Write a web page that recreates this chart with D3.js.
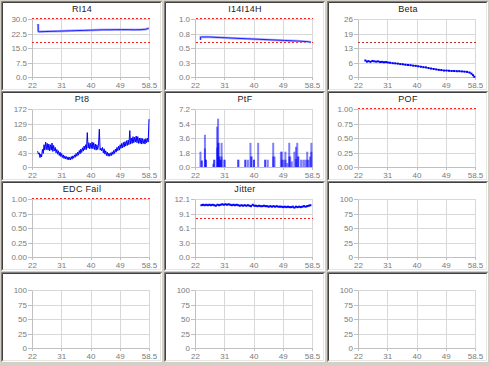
<!DOCTYPE html>
<html><head><meta charset="utf-8">
<script src="https://cdn.jsdelivr.net/npm/d3@7"></script>
<style>body{margin:0;background:#d4d0c8}svg{display:block}</style>
</head><body><svg id="c" width="490" height="366"></svg>
<script>
// ---------- data ----------
const titles = ["RI14","I14I14H","Beta","Pt8","PtF","POF","EDC Fail","Jitter","","","",""];
const yMaxes = [30, 1, 26, 172, 7.2, 1, 1, 12.1, 100, 100, 100, 100];
const yTickLabels = [
  ["0.0","7.5","15.0","22.5","30.0"],
  ["0.0","0.3","0.5","0.8","1.0"],
  ["0","6","13","19","26"],
  ["0","43","86","129","172"],
  ["0.0","1.8","3.6","5.4","7.2"],
  ["0.00","0.25","0.50","0.75","1.00"],
  ["0.00","0.25","0.50","0.75","1.00"],
  ["0.0","3.0","6.1","9.1","12.1"],
  ["0","25","50","75","100"],
  ["0","25","50","75","100"],
  ["0","25","50","75","100"],
  ["0","25","50","75","100"]
];
const xDomain = [22, 58.5];
const xTickValues = [22, 31.125, 40.25, 49.375, 58.5];
const xTickLabels = ["22","31","40","49","58.5"];
const limits = [[30, 18], [1.0, 0.6], [15], [], [], [1], [1], [7.9], [], [], [], []];

const ri14X = [23.9, 23.95, 24.2, 26, 28, 30, 32, 34, 36, 38, 40, 42, 44, 46, 48, 50, 52, 54, 56, 57.5, 58.4];
const ri14V = [27.4, 23.6, 23.4, 23.5, 23.6, 23.7, 23.8, 23.9, 24.0, 24.1, 24.2, 24.3, 24.4, 24.4, 24.5, 24.5, 24.5, 24.4, 24.5, 24.7, 25.2];

const i14X = [23.7, 23.75, 24.0, 26.5, 30, 34, 38, 42, 46, 50, 54, 57, 58.2];
const i14V = [0.64, 0.69, 0.69, 0.69, 0.68, 0.67, 0.66, 0.65, 0.64, 0.63, 0.62, 0.61, 0.60];

const betaX = [24.3,24.8,25.3,25.9,26.5,27.1,27.7,28.3,28.9,29.5,30.1,30.7,31.3,32.0,32.8,33.6,34.4,35.2,36.0,36.8,37.6,38.4,39.2,40.0,40.8,41.6,42.4,43.2,44.0,44.8,45.6,46.4,47.2,48.0,48.8,49.6,50.4,51.2,52.0,52.8,53.6,54.4,55.2,56.0,56.8,57.4,57.9,58.3];
const betaV = [7.4,6.9,7.1,6.8,7.2,7.0,6.9,7.0,6.7,6.8,6.6,6.7,6.5,6.4,6.2,6.1,6.0,5.8,5.7,5.5,5.4,5.3,5.1,5.0,4.8,4.6,4.4,4.3,4.0,3.8,3.6,3.4,3.2,3.1,2.9,2.9,2.8,2.7,2.7,2.6,2.6,2.5,2.4,2.3,2.0,1.5,0.8,0.1];

const pt8Start = 23.75, pt8Step = 0.25;
const pt8V = [
  47,38,42,28,38,30,52,40,66,50,74,52,70,50,68,48,66,50,71,46,
  64,48,58,42,52,38,48,34,44,31,40,28,36,25,33,24,31,22,30,21,
  29,21,31,23,33,26,36,29,40,32,44,35,49,39,53,43,57,47,62,51,
  66,52,102,56,72,54,70,55,74,54,72,52,68,50,66,52,64,112,50,56,
  48,58,42,54,38,48,34,44,32,41,32,42,34,45,37,49,40,53,44,58,
  48,62,50,66,55,70,57,73,59,75,62,78,64,80,66,108,68,86,70,90,
  72,88,74,92,72,90,70,86,70,86,68,84,70,82,68,84,72,86,74,142];

const ptfX = [23.7,24.1,24.1,25.1,25.1,25.4,25.4,27.7,28.0,28.0,28.9,28.9,29.2,29.2,29.4,29.6,29.6,30.0,30.0,30.3,30.3,31.2,31.2,35.5,35.5,37.7,37.7,38.5,39.3,39.6,39.6,40.4,40.4,41.7,43.9,43.9,44.7,46.4,46.4,46.8,48.8,49.1,49.1,49.6,50.2,50.2,50.8,51.4,51.4,51.7,52.2,53.0,53.5,53.5,53.9,54.2,54.2,55.1,55.8,56.4,57.0,57.0,57.4,57.9,58.3,58.3];
const ptfV = [1.9,0.8,0.8,4.0,2.3,0.9,0.9,0.4,0.9,0.9,5.0,2.4,6.0,3.0,3.0,1.3,1.3,0.9,0.9,3.0,1.3,0.9,0.9,0.9,0.9,0.9,0.9,0.9,3.0,1.3,1.3,0.9,0.9,3.0,0.9,0.9,0.9,3.0,1.3,1.3,1.9,1.9,0.9,0.9,1.9,0.9,0.5,3.0,1.3,1.3,0.7,1.9,2.5,1.0,3.0,1.3,1.3,0.9,0.9,0.9,1.9,0.9,0.9,1.3,3.0,1.9];

const jitStart = 24, jitStep = 0.5;
const jitV = [10.8,10.9,10.8,10.9,10.8,10.9,10.8,10.9,10.8,10.7,10.9,10.8,10.9,11.0,10.9,11.0,10.9,11.0,10.9,10.8,
  10.9,10.8,10.9,10.8,10.7,10.8,10.7,10.8,10.7,10.8,10.7,10.6,10.9,10.7,10.7,10.6,10.7,10.6,10.6,10.7,
  10.6,10.6,10.5,10.6,10.5,10.6,10.5,10.6,10.5,10.5,10.5,10.4,10.5,10.4,10.5,10.4,10.4,10.5,10.3,10.5,
  10.4,10.5,10.4,10.5,10.6,10.5,10.6,10.7,10.8];

// ---------- layout ----------
const colX = [3, 166, 329];
const rowY = [3, 93, 183, 274];
const W = 158, H = 87;
const svg = d3.select("#c");
const FONT = "'Liberation Sans', Arial, sans-serif";

function panel(i) {
  const wx = colX[i % 3], wy = rowY[Math.floor(i / 3)];
  const g = svg.append("g");
  g.append("rect").attr("x", wx).attr("y", wy).attr("width", W).attr("height", H).attr("fill", "#fff");
  g.append("path").attr("d", `M${wx-1.5},${wy+H+0.5}V${wy-1.5}H${wx+W+0.5}`).attr("stroke", "#808080").attr("fill", "none");
  g.append("path").attr("d", `M${wx-0.5},${wy+H-0.5}V${wy-0.5}H${wx+W-0.5}`).attr("stroke", "#404040").attr("fill", "none");
  g.append("path").attr("d", `M${wx-1},${wy+H+0.5}H${wx+W+0.5}V${wy-1}`).attr("stroke", "#ffffff").attr("fill", "none");
  g.append("path").attr("d", `M${wx},${wy+H-0.5}H${wx+W-0.5}V${wy}`).attr("stroke", "#e8e6e0").attr("fill", "none");

  const left = wx + 29, right = wx + 146, top = wy + 16, bottom = wy + 74;
  const x = d3.scaleLinear().domain(xDomain).range([left, right]);
  const y = d3.scaleLinear().domain([0, yMaxes[i]]).range([bottom, top]);
  const yTickValues = d3.range(5).map(k => yMaxes[i] * k / 4);

  g.append("text").attr("x", wx + W / 2).attr("y", wy + 9).attr("text-anchor", "middle")
    .attr("font-family", FONT).attr("font-size", "9px").attr("fill", "#222")
    .attr("letter-spacing", "0.3px").text(titles[i]);

  const grid = g.append("g").attr("shape-rendering", "crispEdges");
  grid.append("g").attr("transform", `translate(${left},0)`)
    .call(d3.axisLeft(y).tickValues(yTickValues).tickSize(-(right - left)).tickFormat(""))
    .call(s => s.select(".domain").remove())
    .call(s => s.selectAll("line").attr("stroke", "#d8d8d8"));
  grid.append("g").attr("transform", `translate(0,${bottom})`)
    .call(d3.axisBottom(x).tickValues(xTickValues).tickSize(-(bottom - top)).tickFormat(""))
    .call(s => s.select(".domain").remove())
    .call(s => s.selectAll("line").attr("stroke", "#d8d8d8"));

  const ya = g.append("g").attr("transform", `translate(${left},0)`).attr("shape-rendering", "crispEdges")
    .call(d3.axisLeft(y).tickValues(yTickValues).tickSize(4).tickSizeOuter(0).tickPadding(1)
      .tickFormat((d, k) => yTickLabels[i][k]));
  const xa = g.append("g").attr("transform", `translate(0,${bottom})`).attr("shape-rendering", "crispEdges")
    .call(d3.axisBottom(x).tickValues(xTickValues).tickSize(3).tickSizeOuter(0).tickPadding(2)
      .tickFormat((d, k) => xTickLabels[k]));
  [ya, xa].forEach(a => {
    a.select(".domain").attr("stroke", "#c0c0c0");
    a.selectAll(".tick line").attr("stroke", "#c0c0c0");
    a.selectAll("text").attr("fill", "#7a7a7a").attr("font-family", FONT).attr("font-size", "8px");
  });

  // limit lines (snapped to even pixel rows/cols so the thin red dots stay red)
  limits[i].forEach(v => {
    const ry = 2 * Math.floor(y(v) / 2) + 0.5;
    g.append("line").attr("x1", 2 * Math.round(x(xDomain[0]) / 2)).attr("x2", x(xDomain[1]) + 1)
      .attr("y1", ry).attr("y2", ry)
      .attr("shape-rendering", "crispEdges")
      .attr("stroke", i === 2 ? "#c03030" : "#ff2020").attr("stroke-width", 1)
      .attr("stroke-dasharray", "2,2");
  });
  return { g, x, y };
}

const P = d3.range(12).map(panel);
const line = (p) => d3.line().x(d => p.x(d[0])).y(d => p.y(d[1]));

{
  const p = P[0], data = ri14X.map((v, k) => [v, ri14V[k]]);
  p.g.append("path").datum(data).attr("d", line(p)).attr("fill", "none").attr("stroke", "#b0b0ff").attr("stroke-width", 2.5);
  p.g.append("path").datum(data).attr("d", line(p)).attr("fill", "none").attr("stroke", "#2020ff").attr("stroke-width", 1);
}
{
  const p = P[1], data = i14X.map((v, k) => [v, i14V[k]]);
  p.g.append("path").datum(data).attr("d", line(p)).attr("fill", "none").attr("stroke", "#b0b0ff").attr("stroke-width", 2.5);
  p.g.append("path").datum(data).attr("d", line(p)).attr("fill", "none").attr("stroke", "#2020ff").attr("stroke-width", 1);
}
{
  const p = P[2], data = betaX.map((v, k) => [v, betaV[k]]);
  p.g.append("path").datum(data).attr("d", line(p)).attr("fill", "none").attr("stroke", "#3030ff").attr("stroke-width", 1);
  p.g.selectAll("rect.pt").data(data).enter().append("rect")
    .attr("x", d => p.x(d[0]) - 1).attr("y", d => p.y(d[1]) - 1).attr("width", 2).attr("height", 2).attr("fill", "#0000ff");
}
{
  const p = P[3], data = pt8V.map((v, k) => [pt8Start + k * pt8Step, v]);
  p.g.append("path").datum(data).attr("d", line(p)).attr("fill", "none").attr("stroke", "#0000ff").attr("stroke-width", 1);
}
{
  const p = P[4];
  p.g.selectAll("line.bar").data(ptfX.map((v, k) => [v, ptfV[k]])).enter().append("line")
    .attr("x1", d => p.x(d[0])).attr("x2", d => p.x(d[0]))
    .attr("y1", p.y(0)).attr("y2", d => p.y(d[1]))
    .attr("stroke", "#0000ff").attr("stroke-opacity", 0.5).attr("stroke-width", 2);
}
{
  const p = P[7], data = jitV.map((v, k) => [jitStart + k * jitStep, v]);
  p.g.append("path").datum(data).attr("d", line(p)).attr("fill", "none").attr("stroke", "#2020ff").attr("stroke-width", 1);
  p.g.selectAll("rect.pt").data(data).enter().append("rect")
    .attr("x", d => p.x(d[0]) - 1).attr("y", d => p.y(d[1]) - 1).attr("width", 2).attr("height", 2).attr("fill", "#0000ff");
}
</script></body></html>
